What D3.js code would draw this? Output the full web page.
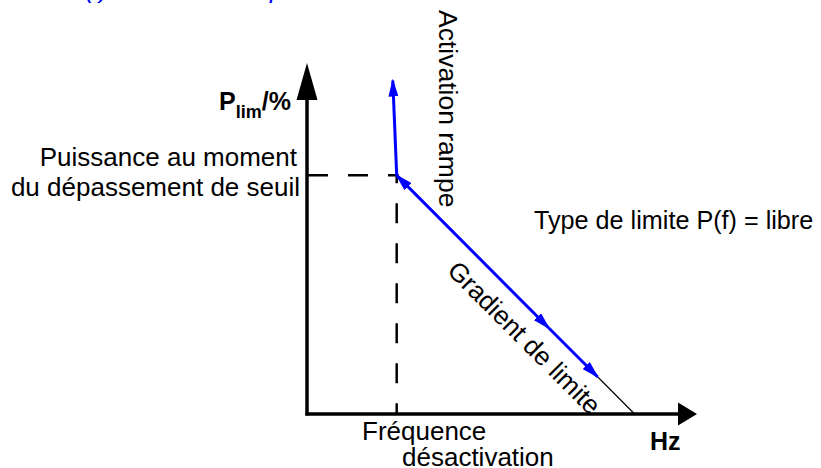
<!DOCTYPE html>
<html>
<head>
<meta charset="utf-8">
<script src="https://cdn.jsdelivr.net/npm/d3@7"></script>
<style>
  html, body { margin: 0; padding: 0; background: #fff; }
  svg { display: block; font-family: "Liberation Sans", Arial, sans-serif; }
</style>
</head>
<body>
<svg id="chart" width="821" height="468"></svg>
<script>
// ---- data (abstract units: frequency 0..100, power 0..100 %) ----
const axisMax = [100, 100];              // arrow tips of the axes
const fDeact = 23;                       // fréquence de désactivation
const pSeuil = 68;                       // puissance au dépassement de seuil
const rampe = [[23, 68], [22, 95]];      // activation rampe (blue, upward)
const gradient1 = [[23, 68], [62, 24.5]];    // gradient de limite, first arrow (double-headed)
const gradient2 = [[62, 24.5], [74.5, 10.6]];// gradient de limite, second arrow
const limitLine = [[74.5, 10.6], [84, 0]];   // continuation to zero (thin black)

const title = "(i) Limitation de puissance";
const yLabel = ["P", "lim", "/%"];
const xLabel = "Hz";
const seuilLabel = ["Puissance au moment", "du dépassement de seuil"];
const freqLabel = ["Fréquence", "désactivation"];
const rampeLabel = "Activation rampe";
const gradientLabel = "Gradient de limite";
const typeLabel = "Type de limite P(f) = libre";

// ---- scales ----
const x = d3.scaleLinear().domain([0, axisMax[0]]).range([307, 697]);
const y = d3.scaleLinear().domain([0, axisMax[1]]).range([414, 63]);

const svg = d3.select("#chart");
const blue = "#0000ff";

// arrow marker for blue lines
const defs = svg.append("defs");
defs.append("marker")
  .attr("id", "barrow")
  .attr("viewBox", "0 0 18 10")
  .attr("refX", 16).attr("refY", 5)
  .attr("markerWidth", 18).attr("markerHeight", 10)
  .attr("markerUnits", "userSpaceOnUse")
  .attr("orient", "auto-start-reverse")
  .append("path").attr("d", "M0,0L18,5L0,10Z").attr("fill", blue);

const line = d3.line().x(d => x(d[0])).y(d => y(d[1]));

// ---- axes ----
const x0 = x(0), y0 = y(0);
const yTip = y(axisMax[1]), xTip = x(axisMax[0]);
const yArrowLen = 37, yArrowHalf = 10.5;
const xArrowLen = 19, xArrowHalf = 11.5;

svg.append("line")
  .attr("x1", x0).attr("y1", y0 + 1.5)
  .attr("x2", x0).attr("y2", yTip + yArrowLen - 1)
  .attr("stroke", "#000").attr("stroke-width", 3.5);
svg.append("path")
  .attr("d", `M${x0},${yTip}L${x0 + yArrowHalf},${yTip + yArrowLen}L${x0 - yArrowHalf},${yTip + yArrowLen}Z`)
  .attr("fill", "#000");

svg.append("line")
  .attr("x1", x0 - 1.5).attr("y1", y0)
  .attr("x2", xTip - xArrowLen + 1).attr("y2", y0)
  .attr("stroke", "#000").attr("stroke-width", 3.5);
svg.append("path")
  .attr("d", `M${xTip},${y0}L${xTip - xArrowLen},${y0 - xArrowHalf}L${xTip - xArrowLen},${y0 + xArrowHalf}Z`)
  .attr("fill", "#000");

// ---- dashed guide lines ----
svg.append("line")
  .attr("x1", x0).attr("y1", y(pSeuil))
  .attr("x2", x(fDeact) + 2).attr("y2", y(pSeuil))
  .attr("stroke", "#000").attr("stroke-width", 2.5)
  .attr("stroke-dasharray", "20,20").attr("stroke-dashoffset", -1);
svg.append("line")
  .attr("x1", x(fDeact)).attr("y1", y(pSeuil))
  .attr("x2", x(fDeact)).attr("y2", y0)
  .attr("stroke", "#000").attr("stroke-width", 2.5)
  .attr("stroke-dasharray", "20,20").attr("stroke-dashoffset", 12);

// ---- thin black continuation ----
svg.append("path").attr("d", line(limitLine))
  .attr("fill", "none").attr("stroke", "#000").attr("stroke-width", 1.2);

// ---- blue arrows ----
svg.append("path").attr("d", line(rampe))
  .attr("fill", "none").attr("stroke", blue).attr("stroke-width", 3)
  .attr("marker-end", "url(#barrow)");
svg.append("path").attr("d", line(gradient1))
  .attr("fill", "none").attr("stroke", blue).attr("stroke-width", 3)
  .attr("marker-start", "url(#barrow)").attr("marker-end", "url(#barrow)");
svg.append("path").attr("d", line(gradient2))
  .attr("fill", "none").attr("stroke", blue).attr("stroke-width", 3)
  .attr("marker-end", "url(#barrow)");

// ---- texts ----
svg.append("text")
  .attr("x", 85).attr("y", -2)
  .attr("font-size", 26).attr("font-style", "italic").attr("fill", blue)
  .text(title);

const yl = svg.append("text")
  .attr("x", 291).attr("y", 110)
  .attr("text-anchor", "end")
  .attr("font-weight", "bold").attr("font-size", 25).attr("fill", "#000");
yl.append("tspan").text(yLabel[0]);
yl.append("tspan").attr("font-size", 18).attr("dy", 8).text(yLabel[1]);
yl.append("tspan").attr("dy", -8).text(yLabel[2]);

svg.append("text")
  .attr("x", 650).attr("y", 450)
  .attr("font-weight", "bold").attr("font-size", 25)
  .text(xLabel);

svg.append("text").attr("x", 297).attr("y", 166)
  .attr("text-anchor", "end").attr("font-size", 26).text(seuilLabel[0]);
svg.append("text").attr("x", 300).attr("y", 196)
  .attr("text-anchor", "end").attr("font-size", 26).text(seuilLabel[1]);

svg.append("text").attr("x", 362).attr("y", 440)
  .attr("font-size", 26).text(freqLabel[0]);
svg.append("text").attr("x", 402).attr("y", 466)
  .attr("font-size", 26).text(freqLabel[1]);

svg.append("text")
  .attr("transform", "translate(439,10) rotate(90)")
  .attr("font-size", 26.5).text(rampeLabel);

svg.append("text")
  .attr("transform", "translate(518,344) rotate(45)")
  .attr("text-anchor", "middle")
  .attr("font-size", 26).text(gradientLabel);

svg.append("text").attr("x", 534).attr("y", 229)
  .attr("font-size", 25.2).text(typeLabel);
</script>
</body>
</html>
